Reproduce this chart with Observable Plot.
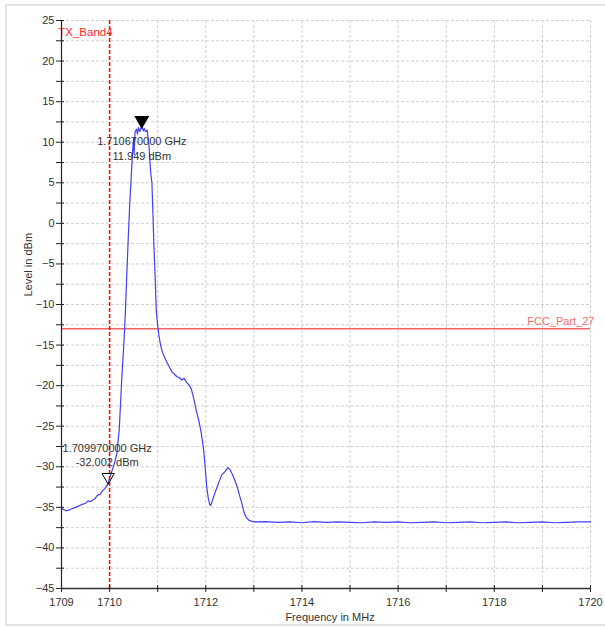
<!DOCTYPE html>
<html><head><meta charset="utf-8">
<script src="https://cdn.jsdelivr.net/npm/d3@7"></script>
<script src="https://cdn.jsdelivr.net/npm/@observablehq/plot@0.6"></script>
<style>
html,body{margin:0;padding:0;background:#fff;overflow:hidden;width:605px;height:628px;}
#frame{position:absolute;left:5px;top:4px;width:700px;height:622px;border:2px solid #e3e3e3;border-right:none;box-sizing:border-box;}
#chart{position:absolute;left:0;top:0;}
</style></head><body><div id="frame"></div><div id="chart"></div>
<script>
// Spectrum trace (frequency in MHz, level in dBm)
const freqMHz = [
  1709.00,1709.05,1709.10,1709.15,1709.20,1709.30,1709.40,1709.50,1709.55,1709.60,
  1709.70,1709.75,1709.80,1709.85,1709.90,1709.95,1709.97,1710.00,1710.05,1710.10,
  1710.15,1710.20,1710.25,1710.30,1710.33,1710.36,1710.39,1710.42,1710.45,1710.48,
  1710.50,1710.51,1710.53,1710.56,1710.58,1710.60,1710.63,1710.65,1710.67,1710.70,
  1710.72,1710.75,1710.78,1710.80,1710.82,1710.84,1710.86,1710.88,1710.90,1710.92,
  1710.95,1710.97,1711.00,1711.03,1711.06,1711.10,1711.15,1711.20,1711.25,1711.30,
  1711.35,1711.40,1711.45,1711.50,1711.55,1711.60,1711.65,1711.70,1711.75,1711.80,
  1711.85,1711.90,1711.95,1711.98,1712.02,1712.05,1712.08,1712.10,1712.13,1712.18,
  1712.23,1712.28,1712.33,1712.40,1712.46,1712.50,1712.55,1712.60,1712.65,1712.70,
  1712.75,1712.80,1712.85,1712.90,1712.95,1713.00,1713.25,1713.50,1713.75,1714.00,
  1714.25,1714.50,1714.75,1715.00,1715.25,1715.50,1715.75,1716.00,1716.25,1716.50,
  1716.75,1717.00,1717.25,1717.50,1717.75,1718.00,1718.25,1718.50,1718.75,1719.00,
  1719.25,1719.50,1719.75,1720.00
];
const levelDbm = [
  -35.1,-35.3,-35.4,-35.35,-35.2,-35.0,-34.7,-34.5,-34.2,-34.3,
  -33.9,-33.5,-33.4,-33.0,-32.7,-32.3,-32.0,-31.4,-30.5,-29.6,
  -28.4,-25.5,-19.5,-14.5,-10.7,-6.0,-1.5,2.5,5.8,9.0,
  10.5,8.5,11.3,11.6,11.0,11.8,11.3,11.7,11.95,11.4,
  11.7,11.3,11.5,10.6,9.5,7.5,6.0,5.0,1.5,-2.5,
  -7.0,-10.7,-12.6,-14.0,-15.0,-15.9,-16.6,-17.2,-17.8,-18.3,
  -18.6,-18.9,-19.0,-19.3,-19.1,-19.6,-19.9,-20.4,-21.6,-23.0,
  -24.2,-25.6,-27.6,-29.5,-32.5,-33.8,-34.6,-34.8,-34.3,-33.4,
  -32.6,-31.8,-31.0,-30.6,-30.1,-30.3,-30.9,-31.6,-32.4,-33.5,
  -34.5,-35.7,-36.3,-36.6,-36.7,-36.8,-36.75,-36.85,-36.8,-36.9,
  -36.75,-36.85,-36.8,-36.85,-36.9,-36.8,-36.85,-36.8,-36.9,-36.85,
  -36.8,-36.9,-36.85,-36.8,-36.9,-36.85,-36.8,-36.9,-36.85,-36.8,
  -36.9,-36.85,-36.8,-36.8
];

// Markers
const markerFreq = [1710.67, 1709.97];
const markerLevel = [11.949, -32.002];
const markerText = ["1.710670000 GHz\n11.949 dBm", "1.709970000 GHz\n-32.002 dBm"];

// Limit lines
const txLineName = "TX_Band4";
const txLineFreq = 1710;
const fccLineName = "FCC_Part_27";
const fccLineLevel = -13;

// Axes
const xTicks = [1709,1710,1711,1712,1713,1714,1715,1716,1717,1718,1719,1720];
const xTickLabels = [1709,1710,1712,1714,1716,1718,1720];
const yTicks = [-45,-42.5,-40,-37.5,-35,-32.5,-30,-27.5,-25,-22.5,-20,-17.5,-15,-12.5,-10,-7.5,-5,-2.5,0,2.5,5,7.5,10,12.5,15,17.5,20,22.5,25];
const yTickLabels = [-45,-40,-35,-30,-25,-20,-15,-10,-5,0,5,10,15,20,25];
const xTitle = "Frequency in MHz";
const yTitle = "Level in dBm";

const trace = freqMHz.map((f, i) => ({f, v: levelDbm[i]}));
const markers = markerFreq.map((f, i) => ({f, v: markerLevel[i], t: markerText[i]}));

const gridStyle = {stroke: "#d0d0d0", strokeOpacity: 1, strokeDasharray: "3,2", strokeWidth: 1};
const chart = Plot.plot({
  width: 605, height: 628,
  marginLeft: 61, marginRight: 15, marginTop: 20, marginBottom: 40,
  style: {fontFamily: "'Liberation Sans', Arial, sans-serif", fontSize: "11px", background: "transparent", color: "#333", overflow: "visible"},
  x: {domain: [1709, 1720]},
  y: {domain: [-45, 25]},
  marks: [
    Plot.gridX(xTicks, gridStyle),
    Plot.gridY(yTicks, gridStyle),
    Plot.ruleX([txLineFreq], {stroke: "#fff", strokeWidth: 2}),
    Plot.ruleY([fccLineLevel], {stroke: "#f06464", strokeWidth: 1.5}),
    Plot.line(trace, {x: "f", y: "v", stroke: "#4040f5", strokeWidth: 1.2}),
    Plot.ruleX([txLineFreq], {stroke: "#ff0000", strokeWidth: 1.5, strokeDasharray: "4,2"}),
    Plot.text([txLineName], {x: [txLineFreq], frameAnchor: "top", textAnchor: "end", dx: 3, dy: 7, fill: "#ff2a2a", fontSize: 11.5}),
    Plot.text([fccLineName], {y: [fccLineLevel], frameAnchor: "right", textAnchor: "end", dx: 4, dy: -7, fill: "#f07070", fontSize: 11}),
    // axis lines
    Plot.ruleX([1709], {stroke: "#222", strokeWidth: 1.2}),
    Plot.ruleY([-45], {stroke: "#333", strokeWidth: 1.6}),
    // ticks crossing the axes
    Plot.axisY(yTicks, {tickSize: 8, dx: 3, tickFormat: () => "", label: null, stroke: "#222"}),
    Plot.axisY(yTickLabels, {tickSize: 0, tickPadding: 7, label: null, fill: "#333", fontSize: 11}),
    Plot.axisX(xTicks, {tickSize: 7, dy: -3, tickFormat: () => "", label: null, stroke: "#222"}),
    Plot.axisX(xTickLabels, {tickSize: 0, tickPadding: 10, label: null, fill: "#333", fontSize: 11, tickFormat: d => String(d)}),
    // axis titles
    Plot.text([xTitle], {frameAnchor: "bottom", dx: 4, dy: 32, fill: "#333", fontSize: 11}),
    Plot.text([yTitle], {frameAnchor: "left", dx: -33, dy: -8, rotate: -90, fill: "#333", fontSize: 11}),
    // markers
    Plot.dot(markers.slice(0, 1), {x: "f", y: "v", symbol: "triangle", rotate: 180, r: 4.6, dy: -6, fill: "#000", stroke: "#000"}),
    Plot.dot(markers.slice(1), {x: "f", y: "v", symbol: "triangle", rotate: 180, r: 4.6, dy: -6, fill: "none", stroke: "#000", strokeWidth: 1}),
    Plot.text(markers.slice(0, 1), {x: "f", y: "v", text: "t", dy: 21, lineHeight: 1.45, fill: "#333", fontSize: 11}),
    Plot.text(markers.slice(1), {x: "f", y: "v", text: "t", dx: -1, dy: -28.5, lineHeight: 1.27, fill: "#333", fontSize: 11})
  ]
});
document.getElementById("chart").appendChild(chart);
</script>
</body></html>
